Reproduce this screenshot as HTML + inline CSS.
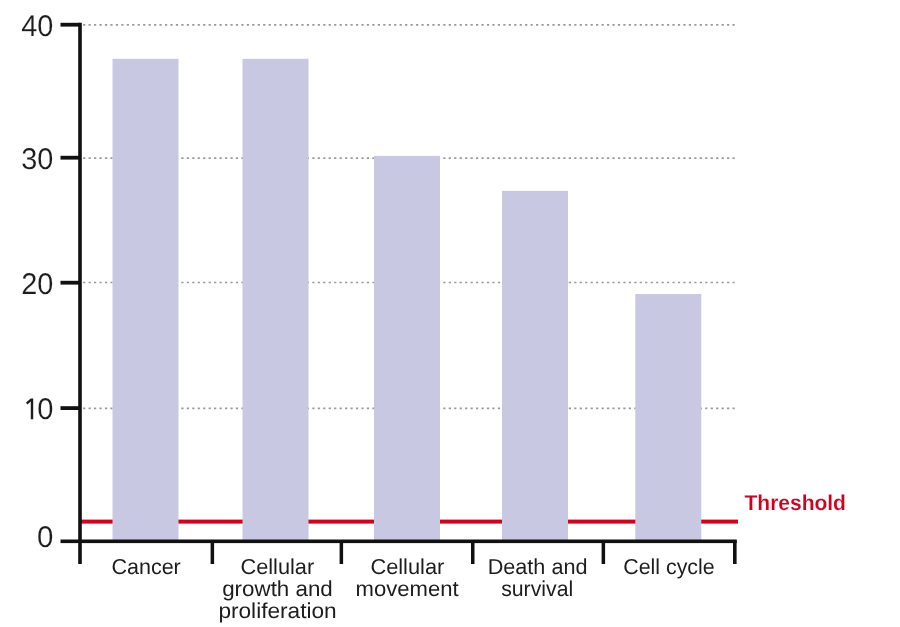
<!DOCTYPE html>
<html>
<head>
<meta charset="utf-8">
<title>Chart</title>
<style>
html,body{margin:0;padding:0;background:#fff;}
body{width:900px;height:627px;overflow:hidden;font-family:"Liberation Sans",sans-serif;}
svg{display:block;will-change:transform;}
text{font-family:"Liberation Sans",sans-serif;text-rendering:geometricPrecision;}
.yl{font-size:30px;fill:#1d1d1d;stroke:#fff;stroke-width:0.12px;}
.xl{font-size:21.6px;fill:#1d1d1d;}
.th{font-size:21.6px;font-weight:bold;fill:#d2001c;stroke:#fff;stroke-width:0.12px;}
</style>
</head>
<body>
<svg width="900" height="627" viewBox="0 0 900 627">
  <rect x="0" y="0" width="900" height="627" fill="#ffffff"/>
  <!-- dotted gridlines -->
  <g stroke="#999999" stroke-width="1.7" stroke-dasharray="2.2 3.257" fill="none">
    <line x1="83.1" y1="24.9" x2="736" y2="24.9"/>
    <line x1="83.1" y1="158.2" x2="736" y2="158.2"/>
    <line x1="83.1" y1="282.5" x2="736" y2="282.5"/>
    <line x1="83.1" y1="408.3" x2="736" y2="408.3"/>
  </g>
  <!-- threshold line -->
  <rect x="81" y="519.6" width="657" height="4" fill="#d6001c"/>
  <!-- bars -->
  <g fill="#c8c8e3">
    <rect x="112.5" y="58.8" width="66" height="481.2"/>
    <rect x="242.5" y="58.8" width="66" height="481.2"/>
    <rect x="374" y="155.9" width="66" height="384.1"/>
    <rect x="502" y="190.9" width="66" height="349.1"/>
    <rect x="635.3" y="294" width="66" height="246"/>
  </g>
  <!-- axes -->
  <g fill="#111">
    <rect x="78.2" y="22.8" width="3.6" height="541.2"/>
    <rect x="60.5" y="22.8" width="20" height="3.8"/>
    <rect x="60.5" y="155.8" width="20" height="3.8"/>
    <rect x="60.5" y="280.8" width="20" height="3.8"/>
    <rect x="60.5" y="406.2" width="20" height="3.8"/>
    <rect x="60.5" y="539.5" width="676.3" height="3.6"/>
    <rect x="210.6" y="541" width="3.5" height="23"/>
    <rect x="339.6" y="541" width="3.5" height="23"/>
    <rect x="471" y="541" width="3.5" height="23"/>
    <rect x="601.6" y="541" width="3.5" height="23"/>
    <rect x="733" y="541" width="3.6" height="23"/>
  </g>
  <!-- y labels -->
  <g class="yl">
    <text x="21.30" y="36.2" textLength="32.10" lengthAdjust="spacingAndGlyphs">40</text>
    <text x="21.30" y="169.3" textLength="32.10" lengthAdjust="spacingAndGlyphs">30</text>
    <text x="21.30" y="294.0" textLength="32.10" lengthAdjust="spacingAndGlyphs">20</text>
    <text x="37.20" y="419.1" textLength="16.20" lengthAdjust="spacingAndGlyphs">0</text>
    <text x="36.90" y="546.6" textLength="16.40" lengthAdjust="spacingAndGlyphs">0</text>
  </g>
  <path d="M30.8,398.5 H33.2 V419.2 H30.8 V401.5 L27.3,404.4 L26.0,402.5 Z" fill="#1d1d1d"/>
  <!-- x labels -->
  <g class="xl">
    <text x="111.40" y="574.1" textLength="69.40" lengthAdjust="spacingAndGlyphs">Cancer</text>
    <text x="240.50" y="574.0" textLength="73.70" lengthAdjust="spacingAndGlyphs">Cellular</text>
    <text x="222.20" y="596.0" textLength="110.60" lengthAdjust="spacingAndGlyphs">growth and</text>
    <text x="218.40" y="617.8" textLength="118.30" lengthAdjust="spacingAndGlyphs">proliferation</text>
    <text x="370.40" y="574.0" textLength="73.90" lengthAdjust="spacingAndGlyphs">Cellular</text>
    <text x="355.60" y="596.0" textLength="103.00" lengthAdjust="spacingAndGlyphs">movement</text>
    <text x="487.70" y="574.0" textLength="99.80" lengthAdjust="spacingAndGlyphs">Death and</text>
    <text x="501.20" y="596.0" textLength="72.00" lengthAdjust="spacingAndGlyphs">survival</text>
    <text x="623.20" y="574.0" textLength="91.50" lengthAdjust="spacingAndGlyphs">Cell cycle</text>
  </g>
  <g class="th">
    <text x="744.50" y="510.3" textLength="101.40" lengthAdjust="spacingAndGlyphs">Threshold</text>
  </g>
</svg>
</body>
</html>
